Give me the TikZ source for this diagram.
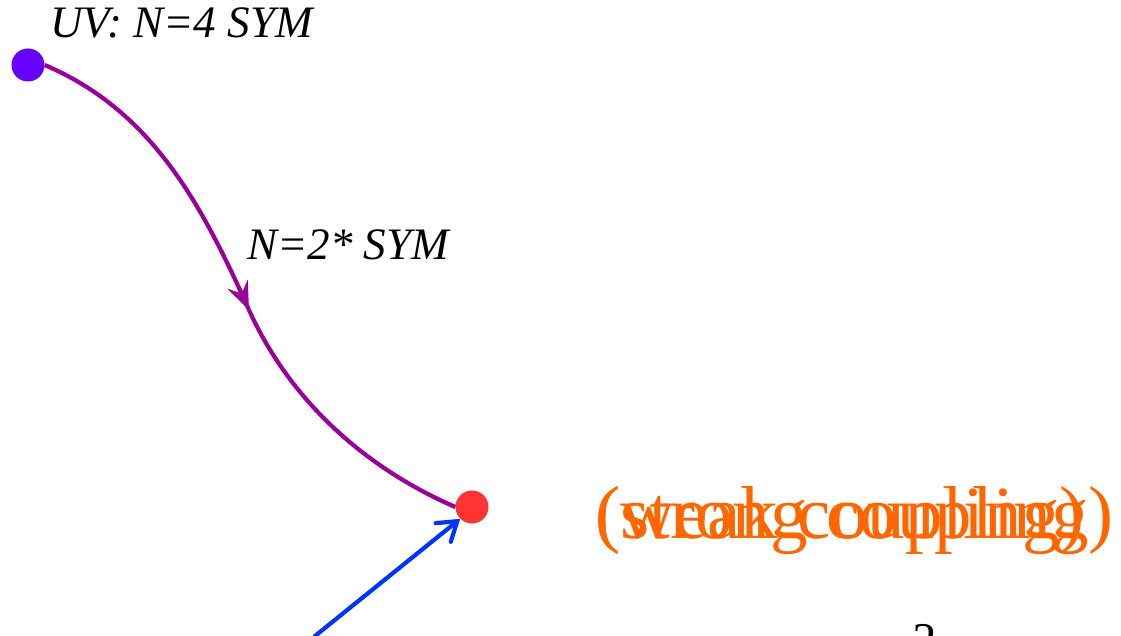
\documentclass[tikz,border=0pt]{standalone}
\usepackage{fontspec}
\setmainfont{Liberation Serif}
\usetikzlibrary{arrows.meta}
\definecolor{uvcol}{HTML}{6600FF}
\definecolor{ircol}{HTML}{FF3333}
\definecolor{flowcol}{HTML}{990099}
\definecolor{bluecol}{HTML}{0033FF}
\definecolor{orangecol}{HTML}{FF6600}
\tikzset{
  fixedpt/.style={circle, fill=#1, inner sep=0pt, minimum size=33pt},
  label44/.style={anchor=base west, inner sep=0pt, font=\fontsize{45}{48}\selectfont\itshape},
  bigorange/.style={anchor=base west, inner sep=0pt, text=orangecol, font=\fontsize{75}{80}\selectfont},
  flow/.style={draw=flowcol, line width=4.2pt},
  bluearrow/.style={draw=bluecol, line width=4.2pt, line cap=round, -{Straight Barb[length=18pt,width=24pt,line cap=round]}}
}
\begin{document}
\begin{tikzpicture}[x=1pt,y=-1pt]
\useasboundingbox (0,0) rectangle (1121,636);
\node[fixedpt=uvcol] (uv) at (28,65) {};
\node[fixedpt=ircol] (ir) at (472,507) {};
\node[label44] (uvlab) at (50,38) {UV: N=4 SYM};
\node[label44] (flowlab) at (247,260) {N=2* SYM};
\node[bigorange] (strong) at (595,538) {(strong coupling)};
\node[bigorange] (weak) at (595,538) {(weak coupling)};
\node[anchor=north, inner sep=0pt, font=\fontsize{50}{54}\selectfont] (q) at (925,624) {?};
\coordinate (mid) at (249,310);
\coordinate (pretip) at (241,292);
\coordinate (bstart) at (315,636);
\draw[flow] (uv.east) .. controls (150,110) and (200,200) .. (mid);
\draw[flow] (mid) .. controls (292,405) and (370,470) .. (ir.west);
\draw[flow, -{Stealth[length=28pt,width=22pt,inset=10pt]}] (pretip) -- (mid);
\draw[bluearrow] (bstart) -- (ir.south west);
\end{tikzpicture}
\end{document}
